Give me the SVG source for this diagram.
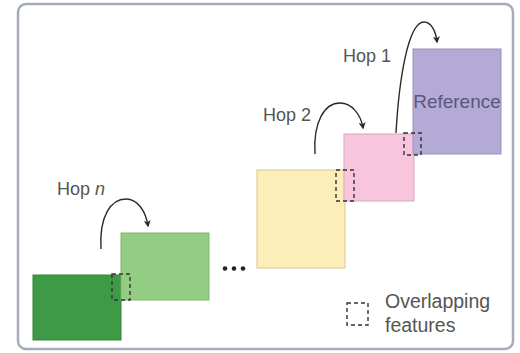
<svg xmlns="http://www.w3.org/2000/svg" width="520" height="353" viewBox="0 0 520 353">
  <defs>
    <marker id="arrow" viewBox="0 0 10 10" refX="8" refY="5" markerWidth="7" markerHeight="7" orient="auto" markerUnits="userSpaceOnUse">
      <path d="M0,0 L10,5 L0,10 L2.5,5 z" fill="#2b2b2b"/>
    </marker>
    <style>
      .label { font-family: "Liberation Sans", Arial, sans-serif; font-size: 18px; fill: #555555; }
      .legend-text { font-family: "Liberation Sans", Arial, sans-serif; font-size: 19.5px; fill: #555555; }
      .tile { stroke-width: 1; }
      .overlap { fill: none; stroke: #333333; stroke-width: 1.4; stroke-dasharray: 4 3; }
      .hop { fill: none; stroke: #2b2b2b; stroke-width: 1.4; }
    </style>
  </defs>
  <rect x="0" y="0" width="520" height="353" fill="#ffffff"/>
  <!-- frame -->
  <rect x="18" y="4" width="495" height="345" rx="8" fill="#ffffff" stroke="#a4abbb" stroke-width="2.5"/>

  <g id="tile-n">
    <rect class="tile" x="33" y="275" width="88" height="65" fill="#3f9a45" stroke="#35853b"/>
  </g>
  <g id="tile-n-1">
    <rect class="tile" x="121" y="233" width="88" height="67" fill="#93cd83" stroke="#7fb872"/>
  </g>
  <g id="tile-2">
    <rect class="tile" x="257" y="170" width="88" height="98" fill="#fdedb8" stroke="#d9c690"/>
  </g>
  <g id="tile-1">
    <rect class="tile" x="344" y="134" width="70" height="67" fill="#f7c6dc" stroke="#d6a3ba"/>
  </g>
  <g id="reference">
    <rect class="tile" x="413" y="49" width="88" height="105" fill="#b4aad6" stroke="#9a90bd"/>
    <text x="457" y="108" text-anchor="middle" font-family="Liberation Sans, Arial, sans-serif" font-size="19" fill="#5a5878">Reference</text>
  </g>

  <!-- overlapping feature regions -->
  <g id="overlaps">
    <rect class="overlap" x="112" y="274" width="18" height="26"/>
    <rect class="overlap" x="336" y="170" width="18" height="31"/>
    <rect class="overlap" x="404" y="133" width="17" height="22"/>
  </g>

  <g id="ellipsis" fill="#222222">
    <circle cx="225" cy="268.5" r="2.3"/>
    <circle cx="234" cy="268.5" r="2.3"/>
    <circle cx="243" cy="268.5" r="2.3"/>
  </g>

  <g id="connectors">
    <path class="hop" d="M101,249 C99,216 111,199 126,199 C138,199 146,212 148,226" marker-end="url(#arrow)"/>
    <path class="hop" d="M315,154 C313,121 325,103 340,103 C352,103 361,115 363,128" marker-end="url(#arrow)"/>
    <path class="hop" d="M396,133 C399,80 408,22 424,22 C431,22 436,31 437,42" marker-end="url(#arrow)"/>
  </g>

  <g id="hop-labels">
    <text class="label" x="343" y="62">Hop 1</text>
    <text class="label" x="263" y="121">Hop 2</text>
    <text class="label" x="57" y="195">Hop <tspan font-style="italic">n</tspan></text>
  </g>

  <g id="legend">
    <rect class="overlap" x="347" y="303" width="21" height="22"/>
    <text class="legend-text" x="385" y="308">Overlapping</text>
    <text class="legend-text" x="385" y="332">features</text>
  </g>
</svg>
